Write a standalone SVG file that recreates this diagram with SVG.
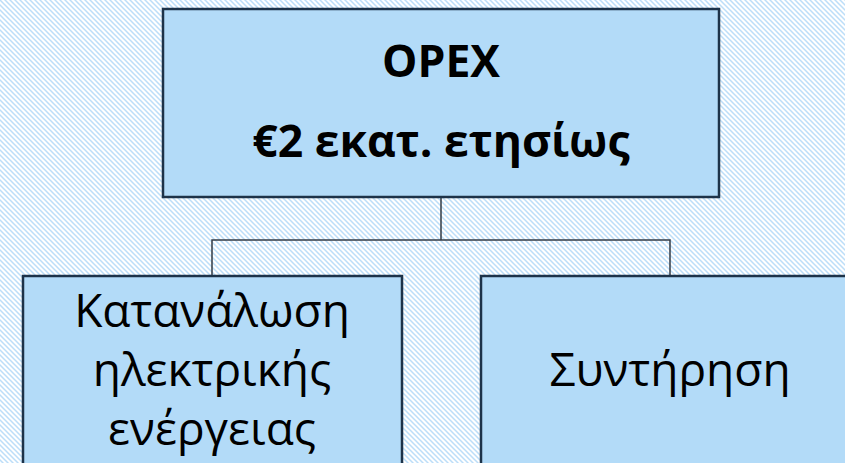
<svg xmlns="http://www.w3.org/2000/svg" width="845" height="463" viewBox="0 0 845 463">
<defs>
<pattern id="hatch" width="5" height="5" patternUnits="userSpaceOnUse">
<rect width="5" height="5" fill="#ffffff"/>
<path d="M-1,-1 L6,6 M-1,4 L1,6 M4,-1 L6,1" stroke="#bcdef9" stroke-width="1.5"/>
</pattern>
<style>
.box{fill:#b3dbf8;stroke:#1d3349;stroke-width:2.5}
.conn{fill:none;stroke:#333d47;stroke-width:1.5}
.t{font-family:"Open Sans","Noto Sans",sans-serif;fill:#000;text-anchor:middle}
.b{font-weight:bold;font-size:44.5px}
.n{font-size:46px}
</style>
</defs>
<rect width="845" height="463" fill="url(#hatch)"/>
<g id="connectors">
<path class="conn" d="M441,197 V240 M212,276 V240 H670 V276"/>
</g>
<g id="node-opex">
<rect class="box" x="163" y="9" width="556" height="188"/>
<text class="t b" x="441" y="77">OPEX</text>
<text class="t b" x="441" y="157">€2 εκατ. ετησίως</text>
</g>
<g id="node-energy">
<rect class="box" x="23" y="276" width="379" height="200"/>
<text class="t n" x="212" y="327">Κατανάλωση</text>
<text class="t n" x="212" y="386">ηλεκτρικής</text>
<text class="t n" x="212" y="445">ενέργειας</text>
</g>
<g id="node-maintenance">
<rect class="box" x="481" y="276" width="379" height="200"/>
<text class="t n" x="670" y="386">Συντήρηση</text>
</g>
</svg>
